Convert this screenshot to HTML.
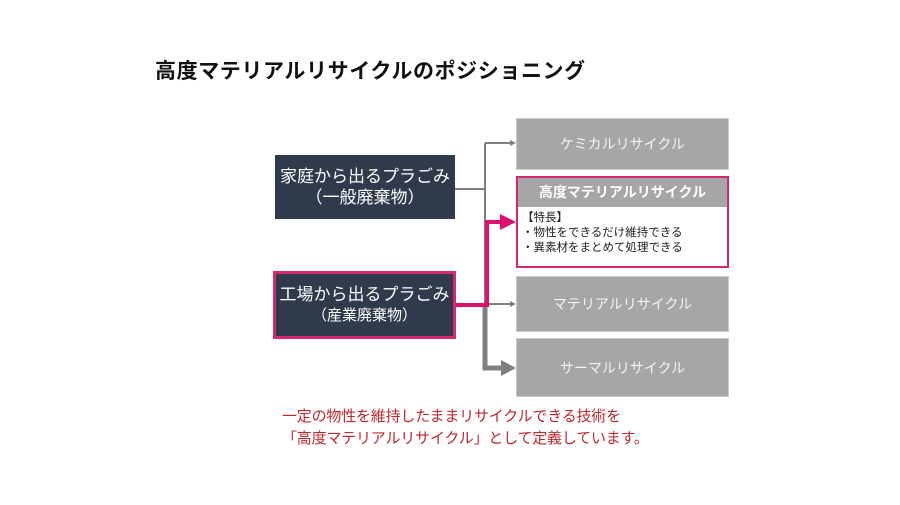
<!DOCTYPE html>
<html><head><meta charset="utf-8"><style>
body{margin:0;width:900px;height:505px;background:#fff;position:relative;overflow:hidden;font-family:"Liberation Sans","Noto Sans CJK JP",sans-serif}
.a{position:absolute;box-sizing:border-box}
.dk{background:#2f3a4c;color:#fff;text-align:center;font-size:17px;line-height:21px;display:flex;flex-direction:column;justify-content:center}
.gr{background:#a6a6a6;color:#f4f4f4;font-size:14px;display:flex;align-items:center;justify-content:center;border:1px solid #c8c8c8}
</style></head><body>
<div class="a" style="left:155px;top:55px;font-size:21px;font-weight:bold;color:#111;letter-spacing:0.6px">高度マテリアルリサイクルのポジショニング</div>
<svg class="a" style="left:0;top:0" width="900" height="505">
<g stroke="#808080" fill="none">
<line x1="455" y1="189" x2="485" y2="189" stroke-width="2"/>
<line x1="485" y1="143" x2="485" y2="305" stroke-width="2"/>
<line x1="485" y1="143" x2="510" y2="143" stroke-width="2"/>
<line x1="485" y1="304" x2="510" y2="304" stroke-width="2"/>
<polyline points="485,304 485,368 503,368" stroke-width="5"/>
</g>
<polygon points="510,140 516,143 510,146" fill="#808080"/>
<polygon points="510,301 516,304 510,307" fill="#808080"/>
<polygon points="501,360 516,368 501,376" fill="#808080"/>
<polyline points="456,305 487,305 487,222 502,222" stroke="#e0106e" stroke-width="4" fill="none"/>
<polygon points="500,214 516,222 500,230" fill="#e0106e"/>
</svg>
<div class="a dk" style="left:275px;top:155px;width:180px;height:64px"><div>家庭から出るプラごみ</div><div>（一般廃棄物）</div></div>
<div class="a dk" style="left:273px;top:271px;width:183px;height:68px;border:3px solid #d6286f"><div>工場から出るプラごみ</div><div style="font-size:15px">（産業廃棄物）</div></div>
<div class="a gr" style="left:516px;top:118px;width:213px;height:52px">ケミカルリサイクル</div>
<div class="a" style="left:516px;top:176px;width:213px;height:92px;border:2px solid #d6286f;background:#fff">
<div style="background:#a6a6a6;color:#fff;font-weight:bold;font-size:14px;height:29px;line-height:29px;text-align:center">高度マテリアルリサイクル</div>
<div style="font-size:11.5px;line-height:15px;color:#222;padding:4px 0 0 4px">【特長】<br>・物性をできるだけ維持できる<br>・異素材をまとめて処理できる</div>
</div>
<div class="a gr" style="left:516px;top:276px;width:213px;height:56px">マテリアルリサイクル</div>
<div class="a gr" style="left:516px;top:338px;width:213px;height:59px">サーマルリサイクル</div>
<div class="a" style="left:282px;top:406px;font-size:15px;line-height:22px;color:#c0282d;letter-spacing:-0.2px">一定の物性を維持したままリサイクルできる技術を<br>「高度マテリアルリサイクル」として定義しています。</div>
</body></html>
